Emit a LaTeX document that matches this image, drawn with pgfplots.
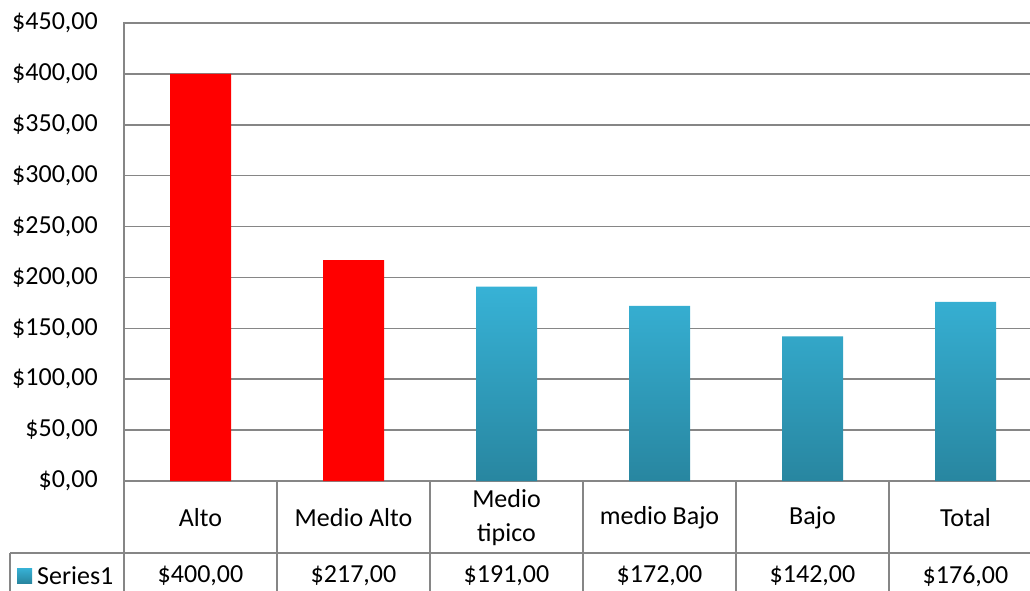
\documentclass[border=0pt]{standalone}
\usepackage{pgfplots}
\pgfplotsset{compat=1.18}
\usepackage{fontspec}
\setmainfont{Carlito}
\definecolor{gridgray}{RGB}{134,134,134}
\definecolor{bartop}{RGB}{55,178,214}
\definecolor{barbot}{RGB}{40,134,160}
\begin{document}
\begin{tikzpicture}[x=1pt,y=1pt]
\path[use as bounding box, clip] (0,0) rectangle (1030,590);
\begin{axis}[
  at={(124pt,109pt)}, anchor=south west,
  width=918pt, height=458pt, scale only axis,
  xmin=-0.5, xmax=5.5, ymin=0, ymax=450,
  ytick={0,50,...,450},
  yticklabels={{\$0,00},{\$50,00},{\$100,00},{\$150,00},{\$200,00},{\$250,00},{\$300,00},{\$350,00},{\$400,00},{\$450,00}},
  xtick={0,...,5},
  xticklabels={Alto,Medio Alto,{Medio\\tipico},medio Bajo,Bajo,Total},
  major tick length=0pt,
  ymajorgrids,
  grid style={gridgray, line width=1.5pt},
  axis line style={gridgray, line width=1.5pt},
  every tick label/.append style={font=\fontsize{26}{34}\selectfont, text=black},
  yticklabel style={anchor=east, inner sep=0pt, xshift=-26pt},
  xticklabel style={anchor=center, inner sep=0pt, yshift=-37pt, align=center},
  clip=false,
]
\addplot[ybar, bar width=61pt, bar shift=0pt, draw=none, fill=red] coordinates {(0,400) (1,217)};
\addplot[ybar, bar width=61pt, bar shift=0pt, draw=none, shade, top color=bartop, bottom color=barbot] coordinates {(2,191) (3,172) (4,142) (5,176)};
\end{axis}
\begin{scope}[gridgray, line width=1.5pt]
\draw (10,37) -- (1042,37);
\draw (10,37) -- (10,-5);
\foreach \i in {0,...,6} \draw ({124+153*\i},109) -- ({124+153*\i},-5);
\end{scope}
\begin{scope}[every node/.style={font=\fontsize{26}{34}\selectfont, inner sep=0pt}]
\shade[top color=bartop, bottom color=barbot] (17,7) rectangle (32,22);
\node[anchor=west] at (37,14) {Series1};
\node at (200.5,14) {\$400,00};
\node at (353.5,14) {\$217,00};
\node at (506.5,14) {\$191,00};
\node at (659.5,14) {\$172,00};
\node at (812.5,14) {\$142,00};
\node at (965.5,14) {\$176,00};
\end{scope}
\end{tikzpicture}
\end{document}
